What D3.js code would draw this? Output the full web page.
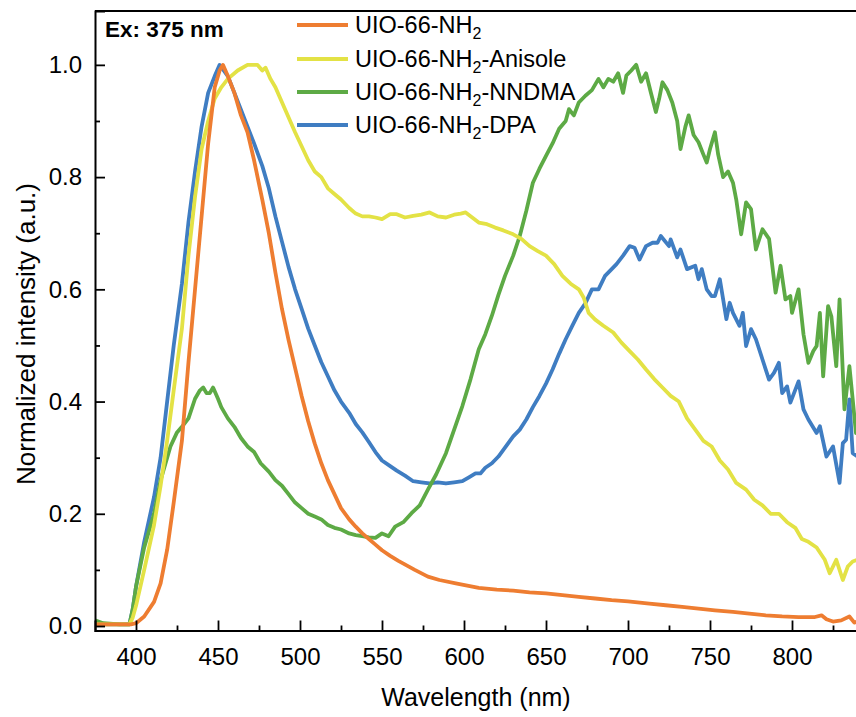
<!DOCTYPE html>
<html>
<head>
<meta charset="utf-8">
<script src="https://cdn.jsdelivr.net/npm/d3@7"></script>
<style>
  html, body { margin: 0; padding: 0; background: #fff; }
  svg { display: block; font-family: "Liberation Sans", Arial, Helvetica, sans-serif; }
</style>
</head>
<body>
<svg id="chart" width="856" height="717"></svg>
<script>
// ---------------- data (wavelength nm, normalized intensity) ----------------
const seriesNames = ["UIO-66-NH2", "UIO-66-NH2-Anisole", "UIO-66-NH2-NNDMA", "UIO-66-NH2-DPA"];
const legendSuffix = ["", "-Anisole", "-NNDMA", "-DPA"];
const seriesColors = ["#EE7D31", "#E3E245", "#5DAA45", "#3F7DC2"];

const xMajorTicks = [400, 450, 500, 550, 600, 650, 700, 750, 800];
const yMajorTicks = [0.0, 0.2, 0.4, 0.6, 0.8, 1.0];

const dataNH2 = [[375,0.003],[390,0.003],[397,0.003],[400,0.005],[405,0.017],[411,0.043],[415,0.076],[419,0.136],[423,0.22],[428,0.33],[432,0.47],[436,0.60],[440,0.73],[444,0.86],[448,0.96],[451,0.99],[453,1.0],[456,0.98],[460,0.95],[464,0.91],[468,0.88],[472,0.83],[477,0.76],[481,0.70],[485,0.63],[489,0.565],[493,0.51],[497,0.46],[501,0.41],[505,0.365],[509,0.325],[513,0.29],[517,0.26],[521,0.235],[525,0.21],[530,0.19],[534,0.177],[538,0.165],[542,0.155],[546,0.145],[550,0.135],[555,0.125],[560,0.116],[570,0.10],[578,0.088],[585,0.082],[595,0.076],[609,0.068],[620,0.065],[630,0.063],[640,0.060],[650,0.058],[660,0.055],[670,0.052],[680,0.049],[690,0.046],[700,0.044],[713,0.040],[723,0.037],[733,0.034],[743,0.031],[753,0.028],[764,0.025],[774,0.022],[784,0.019],[794,0.017],[804,0.016],[814,0.016],[818,0.019],[821,0.012],[825,0.008],[830,0.010],[835,0.017],[838,0.006],[840,0.008]];

const dataAnisole = [[375,0.003],[390,0.003],[396,0.003],[398,0.015],[400,0.036],[405,0.10],[411,0.18],[415,0.25],[419,0.33],[423,0.42],[428,0.53],[432,0.66],[436,0.765],[440,0.85],[444,0.90],[448,0.94],[452,0.96],[456,0.975],[462,0.99],[468,1.0],[474,1.0],[477,0.99],[479,0.995],[482,0.975],[485,0.96],[488,0.94],[491,0.92],[494,0.90],[497,0.88],[501,0.855],[505,0.83],[509,0.81],[513,0.80],[517,0.78],[521,0.77],[525,0.76],[530,0.745],[534,0.735],[538,0.73],[542,0.73],[546,0.728],[550,0.725],[555,0.734],[559,0.734],[564,0.728],[569,0.731],[574,0.733],[579,0.737],[584,0.73],[589,0.728],[594,0.733],[598,0.735],[601,0.737],[605,0.728],[609,0.719],[614,0.716],[619,0.71],[624,0.705],[630,0.698],[635,0.69],[640,0.677],[645,0.668],[650,0.66],[655,0.645],[660,0.624],[665,0.61],[670,0.60],[673,0.585],[676,0.558],[680,0.546],[685,0.535],[691,0.523],[696,0.505],[701,0.49],[706,0.475],[711,0.457],[716,0.44],[721,0.425],[726,0.41],[731,0.40],[736,0.37],[741,0.35],[746,0.33],[751,0.32],[756,0.295],[761,0.279],[766,0.255],[772,0.243],[777,0.225],[782,0.215],[787,0.20],[792,0.20],[797,0.185],[802,0.175],[806,0.155],[810,0.15],[815,0.14],[820,0.118],[823,0.094],[827,0.118],[831,0.082],[834,0.106],[837,0.115],[840,0.118]];

const dataNNDMA = [[375,0.01],[380,0.005],[390,0.003],[396,0.003],[398,0.03],[400,0.07],[405,0.14],[411,0.20],[415,0.26],[421,0.32],[425,0.345],[428,0.355],[432,0.37],[436,0.405],[439,0.42],[441,0.425],[443,0.415],[445,0.415],[447,0.425],[450,0.405],[452,0.39],[456,0.37],[460,0.355],[464,0.335],[468,0.32],[472,0.31],[476,0.29],[481,0.275],[485,0.26],[489,0.25],[493,0.235],[497,0.22],[501,0.21],[505,0.20],[509,0.195],[513,0.19],[517,0.18],[521,0.175],[525,0.172],[530,0.165],[534,0.162],[538,0.16],[542,0.158],[546,0.157],[550,0.165],[554,0.16],[558,0.177],[563,0.185],[568,0.201],[573,0.215],[578,0.243],[583,0.27],[589,0.308],[594,0.35],[599,0.392],[604,0.44],[609,0.493],[613,0.52],[617,0.553],[621,0.59],[625,0.624],[630,0.66],[634,0.695],[638,0.74],[642,0.79],[646,0.815],[650,0.838],[654,0.86],[658,0.886],[662,0.90],[664,0.921],[667,0.91],[670,0.933],[674,0.945],[678,0.955],[682,0.975],[685,0.96],[688,0.975],[691,0.97],[694,0.985],[697,0.95],[699,0.981],[702,0.99],[705,1.0],[708,0.97],[711,0.985],[714,0.95],[717,0.916],[719,0.94],[721,0.969],[724,0.955],[727,0.933],[730,0.90],[732,0.85],[735,0.89],[737,0.91],[740,0.875],[743,0.862],[746,0.84],[748,0.826],[750,0.85],[753,0.88],[755,0.84],[758,0.80],[761,0.81],[764,0.79],[766,0.76],[769,0.698],[772,0.755],[775,0.743],[778,0.671],[782,0.707],[786,0.69],[790,0.594],[793,0.642],[796,0.582],[799,0.588],[800,0.558],[804,0.60],[807,0.52],[810,0.469],[813,0.49],[815,0.499],[817,0.558],[819,0.445],[822,0.57],[824,0.552],[827,0.463],[829,0.582],[832,0.386],[835,0.463],[837,0.404],[839,0.344],[840,0.36]];

const dataDPA = [[375,0.003],[390,0.003],[396,0.003],[398,0.03],[400,0.07],[405,0.15],[411,0.23],[415,0.30],[419,0.40],[423,0.50],[428,0.61],[432,0.72],[436,0.81],[440,0.89],[444,0.95],[448,0.98],[451,1.0],[456,0.98],[460,0.95],[464,0.92],[468,0.89],[472,0.86],[477,0.82],[481,0.78],[485,0.73],[489,0.685],[493,0.64],[497,0.60],[501,0.565],[505,0.53],[509,0.50],[513,0.47],[517,0.445],[521,0.42],[525,0.40],[530,0.38],[534,0.36],[538,0.345],[542,0.328],[546,0.31],[550,0.295],[555,0.285],[559,0.277],[564,0.268],[569,0.258],[574,0.256],[579,0.254],[584,0.256],[589,0.254],[594,0.256],[599,0.258],[603,0.265],[607,0.272],[610,0.272],[613,0.282],[617,0.29],[621,0.302],[625,0.318],[630,0.338],[634,0.35],[638,0.368],[642,0.39],[646,0.41],[650,0.432],[654,0.457],[658,0.485],[662,0.511],[666,0.535],[670,0.558],[674,0.575],[678,0.60],[682,0.60],[686,0.624],[689,0.633],[693,0.645],[697,0.66],[701,0.677],[704,0.674],[707,0.653],[711,0.677],[715,0.683],[718,0.683],[720,0.695],[725,0.677],[726,0.689],[730,0.657],[732,0.671],[736,0.636],[741,0.642],[743,0.618],[745,0.636],[748,0.60],[751,0.588],[753,0.588],[756,0.618],[760,0.547],[762,0.576],[764,0.558],[768,0.535],[770,0.558],[772,0.499],[775,0.529],[778,0.511],[782,0.475],[786,0.439],[789,0.451],[792,0.469],[794,0.415],[797,0.427],[799,0.398],[804,0.436],[807,0.386],[810,0.368],[815,0.344],[817,0.356],[821,0.302],[825,0.32],[829,0.255],[831,0.326],[833,0.332],[835,0.404],[837,0.308],[840,0.302]];

const allSeries = [dataNH2, dataAnisole, dataNNDMA, dataDPA];
const drawOrder = [3, 2, 1, 0];

// ---------------- chart ----------------
const svg = d3.select("#chart");
const x = d3.scaleLinear().domain([375, 840]).range([95, 857.6]);
const y = d3.scaleLinear().domain([-0.008, 1.096]).range([630.5, 11]);

svg.append("clipPath").attr("id", "plotclip")
  .append("rect")
  .attr("x", x.range()[0]).attr("y", y.range()[1])
  .attr("width", x.range()[1] - x.range()[0])
  .attr("height", y.range()[0] - y.range()[1]);

const line = d3.line().x(d => x(d[0])).y(d => y(d[1]));

const plot = svg.append("g").attr("clip-path", "url(#plotclip)");
drawOrder.forEach(i => {
  plot.append("path")
    .datum(allSeries[i])
    .attr("fill", "none")
    .attr("stroke", seriesColors[i])
    .attr("stroke-width", 3.8)
    .attr("stroke-linejoin", "round")
    .attr("stroke-linecap", "round")
    .attr("d", line);
});

// axes
const xMinor = d3.range(425, 840, 50);
const yMinor = d3.range(0.1, 1.01, 0.2);

const gx = svg.append("g").attr("transform", `translate(0,${y.range()[0]})`);
gx.call(d3.axisBottom(x).tickValues(xMajorTicks).tickSize(-10).tickPadding(17).tickFormat(d3.format("d")));
const gxm = svg.append("g").attr("transform", `translate(0,${y.range()[0]})`);
gxm.call(d3.axisBottom(x).tickValues(xMinor).tickSize(-5).tickFormat(""));
gxm.select(".domain").remove();

const gy = svg.append("g").attr("transform", `translate(${x.range()[0]},0)`);
gy.call(d3.axisLeft(y).tickValues(yMajorTicks).tickSize(-10).tickPadding(13).tickFormat(d3.format(".1f")));
const gym = svg.append("g").attr("transform", `translate(${x.range()[0]},0)`);
gym.call(d3.axisLeft(y).tickValues(yMinor).tickSize(-5).tickFormat(""));
gym.select(".domain").remove();

svg.selectAll(".domain").attr("stroke", "#000").attr("stroke-width", 2);
svg.selectAll(".tick line").attr("stroke", "#000").attr("stroke-width", 1.8);
svg.selectAll(".tick text").attr("font-size", 24).attr("fill", "#000")
  .attr("font-family", "'Liberation Sans', Arial, sans-serif");

// top frame
svg.append("line")
  .attr("x1", x.range()[0]).attr("x2", 856)
  .attr("y1", y.range()[1]).attr("y2", y.range()[1])
  .attr("stroke", "#000").attr("stroke-width", 2);

// axis titles
svg.append("text")
  .attr("x", 476).attr("y", 706)
  .attr("text-anchor", "middle")
  .attr("font-size", 25)
  .text("Wavelength (nm)");

svg.append("text")
  .attr("transform", "translate(35,334) rotate(-90)")
  .attr("text-anchor", "middle")
  .attr("font-size", 26)
  .text("Normalized intensity (a.u.)");

// annotation
svg.append("text")
  .attr("x", 105).attr("y", 37)
  .attr("font-size", 22.5)
  .attr("font-weight", "bold")
  .text("Ex: 375 nm");

// legend
const legendY = [25, 59, 92, 125];
const lg = svg.append("g");
seriesNames.forEach((name, i) => {
  lg.append("line")
    .attr("x1", 297).attr("x2", 348)
    .attr("y1", legendY[i]).attr("y2", legendY[i])
    .attr("stroke", seriesColors[i]).attr("stroke-width", 4);
  const t = lg.append("text")
    .attr("x", 355).attr("y", legendY[i] + 8)
    .attr("font-size", 23.5);
  t.append("tspan").text("UIO-66-NH");
  t.append("tspan").attr("font-size", 16).attr("dy", 6).text("2");
  if (legendSuffix[i]) t.append("tspan").attr("dy", -6).text(legendSuffix[i]);
});
</script>
</body>
</html>
